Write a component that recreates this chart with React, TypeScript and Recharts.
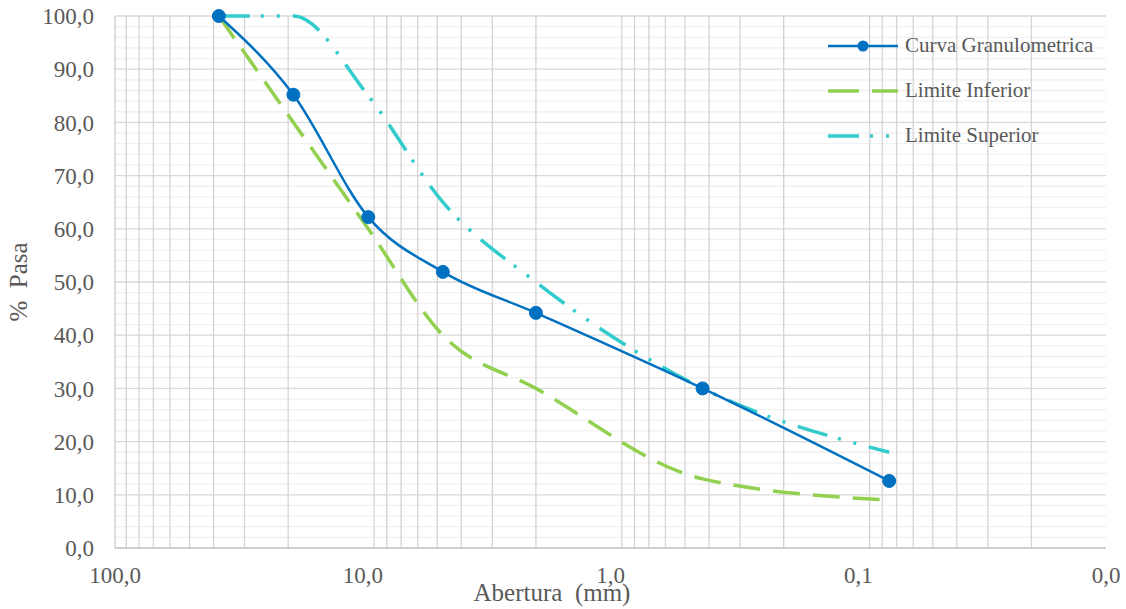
import React from 'react';
import { LineChart, Line, XAxis, YAxis, CartesianGrid, ReferenceLine, Legend } from 'recharts';

// Abertura (mm) / % Pasa
const sieves = [38.1, 19.05, 9.5, 4.75, 2.0, 0.425, 0.075];
const curva = [100, 85.2, 62.2, 51.9, 44.2, 30.0, 12.6];
const limiteInferior = [100, 80, 60, 40, 30, 13, 9];
const limiteSuperior = [100, 100, 85, 65, 50, 30, 18];

const xTicks = [100, 10, 1, 0.1, 0.01];
const yTicks = [0, 10, 20, 30, 40, 50, 60, 70, 80, 90, 100];
const minorX = [100, 10, 1, 0.1].flatMap(d => [2, 3, 4, 5, 6, 7, 8, 9].map(m => (d * m) / 10));
const minorY = Array.from({ length: 51 }, (_, i) => i * 2).filter(v => v % 10 !== 0);

const toRows = (vals: number[]) => sieves.map((x, i) => ({ x, y: vals[i] }));

const series = [
  { name: 'Curva Granulometrica', data: toRows(curva), color: '#0070C0' },
  { name: 'Limite Inferior', data: toRows(limiteInferior), color: '#92D050' },
  { name: 'Limite Superior', data: toRows(limiteSuperior), color: '#33CCCC' },
];

const FONT = "'Liberation Serif', 'Times New Roman', serif";
const TEXT = '#595959';

const fmt = (v: number) => v.toFixed(1).replace('.', ',');

const LegendBox = () => (
  <div style={{ fontFamily: FONT, fontSize: 21, color: TEXT }}>
    {series.map((s, i) => (
      <div key={s.name} style={{ display: 'flex', alignItems: 'center', height: 45 }}>
        <svg width={77} height={12} style={{ flexShrink: 0 }}>
          {i === 0 && (
            <>
              <line x1={0} y1={6} x2={70} y2={6} stroke={s.color} strokeWidth={2.5} />
              <circle cx={35} cy={6} r={5.5} fill={s.color} />
            </>
          )}
          {i === 1 && (
            <line x1={0} y1={6} x2={70} y2={6} stroke={s.color} strokeWidth={3.5} strokeDasharray="31 13" />
          )}
          {i === 2 && (
            <line x1={0} y1={6} x2={70} y2={6} stroke={s.color} strokeWidth={3.5} strokeDasharray="31 11 3 13 3 30" />
          )}
        </svg>
        <span style={{ whiteSpace: 'nowrap' }}>{s.name}</span>
      </div>
    ))}
  </div>
);

const YLabel = (props: any) => {
  const { viewBox } = props;
  const cx = viewBox.x + 18;
  const cy = viewBox.y + viewBox.height / 2;
  return (
    <text x={cx} y={cy} transform={`rotate(-90 ${cx} ${cy})`} textAnchor="middle" dominantBaseline="central"
      fill={TEXT} fontSize={25} style={{ whiteSpace: 'pre', fontFamily: FONT }}>
      %  Pasa
    </text>
  );
};

const XLabel = (props: any) => {
  const { viewBox } = props;
  return (
    <text x={viewBox.x + 437} y={viewBox.y + 53} textAnchor="middle" fill={TEXT} fontSize={25}
      style={{ whiteSpace: 'pre', fontFamily: FONT }}>
      Abertura  (mm)
    </text>
  );
};

export default function App() {
  return (
    <div style={{ position: 'absolute', left: 0, top: 0, background: '#fff', fontFamily: FONT }}>
      <LineChart width={1126} height={609} margin={{ top: 16, right: 20, left: 0, bottom: 0 }} style={{ fontFamily: FONT }}>
        <CartesianGrid vertical={false} stroke="#d9d9d9" strokeWidth={1.3} />
        {minorY.map(v => (
          <ReferenceLine key={'y' + v} y={v} stroke="#f0f0f0" strokeWidth={1.3} />
        ))}
        {minorX.map(v => (
          <ReferenceLine key={'x' + v} x={v} stroke="#d4d4d4" strokeWidth={1.3} />
        ))}
        <XAxis
          type="number"
          dataKey="x"
          scale="log"
          domain={[0.01, 100]}
          reversed
          allowDataOverflow
          ticks={xTicks}
          tickFormatter={fmt}
          tickSize={0}
          tickMargin={19}
          height={61}
          stroke="#bfbfbf"
          tick={{ fill: TEXT, fontSize: 23, style: { fontFamily: FONT } }}
          label={<XLabel />}
        />
        <YAxis
          type="number"
          dataKey="y"
          domain={[0, 100]}
          ticks={yTicks}
          tickFormatter={fmt}
          tickSize={0}
          tickMargin={21}
          width={115}
          stroke="#bfbfbf"
          tick={{ fill: TEXT, fontSize: 23, style: { fontFamily: FONT } }}
          label={<YLabel />}
        />
        <Legend
          layout="vertical"
          align="center"
          verticalAlign="middle"
          content={<LegendBox />}
          wrapperStyle={{ position: 'absolute', left: 828, top: 23, width: 296 }}
        />
        <Line
          data={series[2].data}
          dataKey="y"
          name={series[2].name}
          type="monotone"
          stroke={series[2].color}
          strokeWidth={3.5}
          strokeDasharray="31 11 3 13 3 13"
          dot={false}
          isAnimationActive={false}
        />
        <Line
          data={series[1].data}
          dataKey="y"
          name={series[1].name}
          type="monotone"
          stroke={series[1].color}
          strokeWidth={3.5}
          strokeDasharray="27 13"
          dot={false}
          isAnimationActive={false}
        />
        <Line
          data={series[0].data}
          dataKey="y"
          name={series[0].name}
          type="monotone"
          stroke={series[0].color}
          strokeWidth={2.5}
          dot={{ r: 6.5, fill: series[0].color, stroke: series[0].color, strokeWidth: 1 }}
          isAnimationActive={false}
        />
      </LineChart>
    </div>
  );
}
